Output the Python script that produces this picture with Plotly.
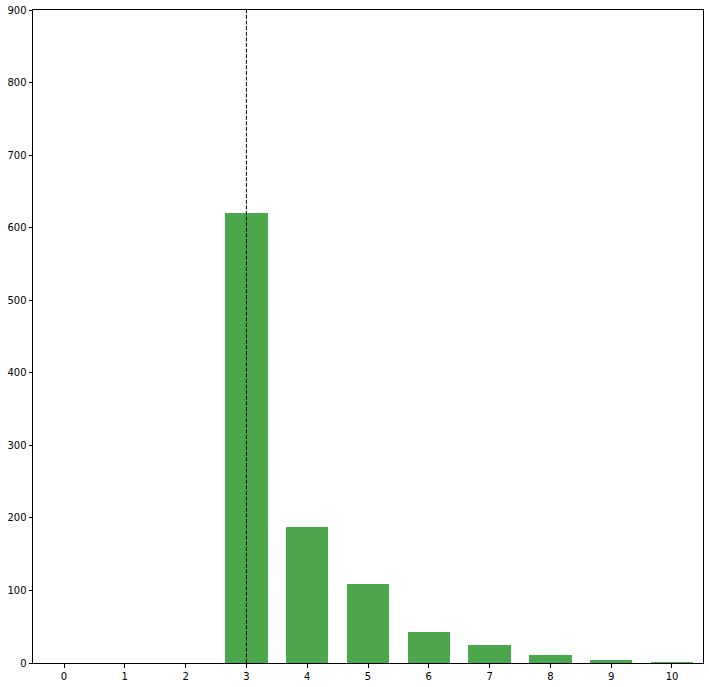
import plotly.graph_objects as go

categories = [0, 1, 2, 3, 4, 5, 6, 7, 8, 9, 10]
counts = [0, 0, 0, 620, 187, 109, 43, 25, 11, 4, 1.5]
marker_x = 3
y_ticks = [0, 100, 200, 300, 400, 500, 600, 700, 800, 900]

fig = go.Figure()
fig.add_trace(go.Bar(x=categories, y=counts, width=0.7,
                     marker=dict(color="rgba(0,128,0,0.7)", line=dict(width=0))))
fig.add_shape(type="line", x0=marker_x, x1=marker_x, y0=0, y1=1, xref="x", yref="paper",
              line=dict(color="black", width=1, dash="4px,1.6px"))

fig.update_layout(
    width=709, height=687,
    margin=dict(l=33, r=6, t=10, b=24),
    paper_bgcolor="white", plot_bgcolor="white",
    font=dict(family="DejaVu Sans", size=10, color="black"),
    showlegend=False,
    bargap=0,
)
fig.update_xaxes(range=[-0.51, 10.51], tickmode="array", tickvals=categories,
                 ticks="outside", ticklen=3.5, tickcolor="black", automargin=False,
                 showgrid=False, zeroline=False, showline=True, linecolor="black",
                 linewidth=1, mirror=True)
fig.update_yaxes(range=[0, 900], tickmode="array", tickvals=y_ticks,
                 ticks="outside", ticklen=3.5, tickcolor="black", automargin=False,
                 showgrid=False, zeroline=False, showline=True, linecolor="black",
                 linewidth=1, mirror=True)

fig.write_html("out.html", config={"displayModeBar": False},
               post_script="document.body.style.margin='0px';")
